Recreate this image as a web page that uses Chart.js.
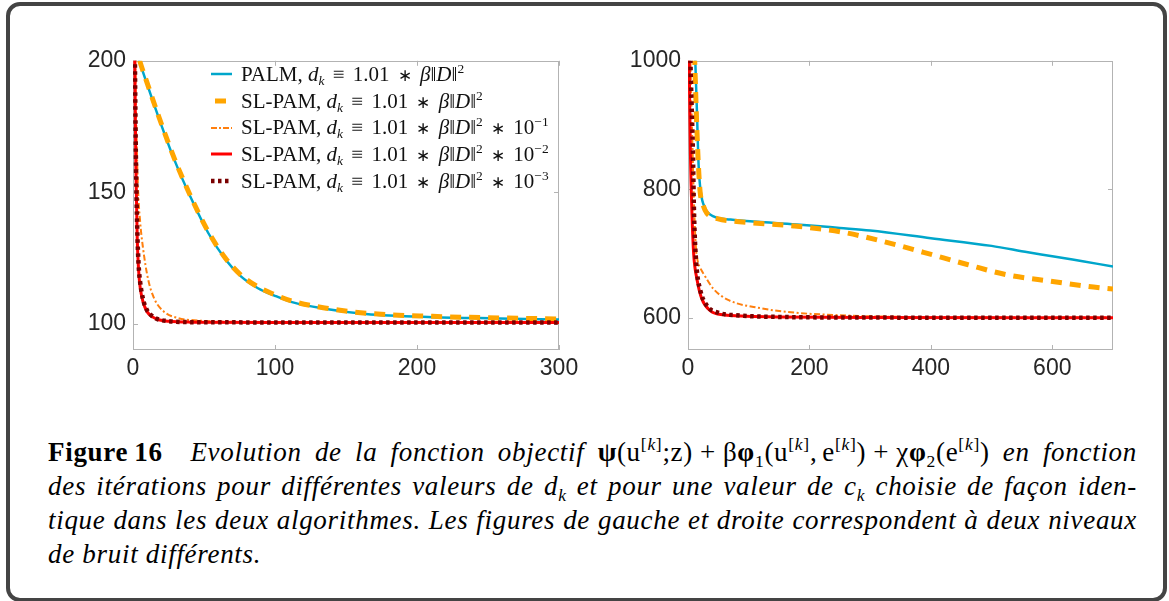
<!DOCTYPE html>
<html>
<head>
<meta charset="utf-8">
<script src="https://cdn.jsdelivr.net/npm/chart.js@4.4.1/dist/chart.umd.min.js"></script>
<style>
  body { margin: 0; width: 1169px; height: 601px; background: #fff; position: relative; overflow: hidden; font-family: "Liberation Serif", serif; }
  #frame { position: absolute; left: 6px; top: 2px; width: 1153px; height: 592px; border: 4px solid #444; border-radius: 14px; }
  .chartbox { position: absolute; top: 40px; width: 530px; height: 345px; }
  #legend { position: absolute; left: 211px; top: 61px; font-size: 21px; color: #111; }
  #legend .row { height: 26.7px; display: flex; align-items: center; white-space: nowrap; }
  #legend svg { margin-right: 9px; flex: none; }
  #legend sup { font-size: 64%; vertical-align: 0.6em; line-height: 0; font-style: normal; }
  #legend sub { font-size: 64%; vertical-align: -0.3em; line-height: 0; }
  #legend .op { font-size: 80%; margin: 0 3px; }
  #legend .eq { margin: 0 3px; }
  #caption { position: absolute; left: 48px; top: 435px; width: 1089px; font-size: 27px; line-height: 34px; color: #000; letter-spacing: 0.7px; }
  #caption .ln { text-align: justify; text-align-last: justify; white-space: nowrap; }
  #caption .last { text-align: left; text-align-last: left; }
  #caption sup { font-size: 65%; vertical-align: 0.6em; line-height: 0; }
  #caption sub { font-size: 65%; vertical-align: -0.35em; line-height: 0; }
  #caption .m { font-style: normal; }
  #caption .pl { margin: 0 7px; }
  #caption .cm { margin-right: 5px; }
</style>
</head>
<body>
<div id="frame"></div>

<div class="chartbox" style="left:60px"><canvas id="leftChart" width="530" height="345"></canvas></div>
<div class="chartbox" style="left:620px"><canvas id="rightChart" width="530" height="345"></canvas></div>

<div id="legend">
  <div class="row"><svg width="21" height="6"><line x1="0" y1="3" x2="21" y2="3" stroke="#00a6cb" stroke-width="2.5"/></svg><span>PALM, <i>d<sub>k</sub></i> <span class="eq">≡</span> 1.01 <span class="op">∗</span> <i>β</i>‖<i>D</i>‖<sup>2</sup></span></div>
  <div class="row"><svg width="21" height="6"><line x1="4" y1="3" x2="15" y2="3" stroke="#ffa500" stroke-width="5"/></svg><span>SL-PAM, <i>d<sub>k</sub></i> <span class="eq">≡</span> 1.01 <span class="op">∗</span> <i>β</i>‖<i>D</i>‖<sup>2</sup></span></div>
  <div class="row"><svg width="21" height="6"><line x1="0" y1="3" x2="21" y2="3" stroke="#ff7f0e" stroke-width="2" stroke-dasharray="6 2 2 2"/></svg><span>SL-PAM, <i>d<sub>k</sub></i> <span class="eq">≡</span> 1.01 <span class="op">∗</span> <i>β</i>‖<i>D</i>‖<sup>2</sup> <span class="op">∗</span> 10<sup>−1</sup></span></div>
  <div class="row"><svg width="21" height="6"><line x1="0" y1="3" x2="21" y2="3" stroke="#ff0000" stroke-width="3"/></svg><span>SL-PAM, <i>d<sub>k</sub></i> <span class="eq">≡</span> 1.01 <span class="op">∗</span> <i>β</i>‖<i>D</i>‖<sup>2</sup> <span class="op">∗</span> 10<sup>−2</sup></span></div>
  <div class="row"><svg width="21" height="6"><line x1="0" y1="3" x2="21" y2="3" stroke="#7a0000" stroke-width="4.5" stroke-dasharray="3.5 3.5"/></svg><span>SL-PAM, <i>d<sub>k</sub></i> <span class="eq">≡</span> 1.01 <span class="op">∗</span> <i>β</i>‖<i>D</i>‖<sup>2</sup> <span class="op">∗</span> 10<sup>−3</sup></span></div>
</div>

<div id="caption">
  <div class="ln"><b>Figure&#8201;16</b>&#8195;<i>Evolution de la fonction objectif</i> <span class="m"><b>ψ</b>(u<sup>[<i>k</i>]</sup>;z)<span class="pl">+</span>β<b>φ</b><sub>1</sub>(u<sup>[<i>k</i>]</sup><span class="cm">,</span>e<sup>[<i>k</i>]</sup>)<span class="pl">+</span>χ<b>φ</b><sub>2</sub>(e<sup>[<i>k</i>]</sup>)</span> <i>en fonction</i></div>
  <div class="ln"><i>des itérations pour différentes valeurs de d<sub>k</sub> et pour une valeur de c<sub>k</sub> choisie de façon iden-</i></div>
  <div class="ln"><i>tique dans les deux algorithmes. Les figures de gauche et droite correspondent à deux niveaux</i></div>
  <div class="ln last"><i>de bruit différents.</i></div>
</div>

<script>
// Tick labels
const leftXTicks = [0, 100, 200, 300];
const leftYTicks = [100, 150, 200];
const rightXTicks = [0, 200, 400, 600];
const rightYTicks = [600, 800, 1000];

// Left panel (iterations 0..300)
const palmLeftX = [1, 5, 10, 18, 29, 41, 53, 65, 76, 88, 100, 112, 135, 164, 211, 258, 300];
const palmLeftY = [206, 199, 191, 178.5, 162.5, 147.6, 134.5, 124.5, 118, 113.5, 110.6, 108.2, 105.7, 103.7, 102.5, 102, 101.6];
const slpamLeftX = [1, 5, 10, 18, 29, 41, 53, 65, 76, 88, 100, 112, 135, 164, 211, 258, 300];
const slpamLeftY = [207, 199.5, 191.5, 179, 163, 148, 135, 125, 118.5, 114, 111, 108.6, 106, 104, 102.8, 102.2, 101.8];
const slpam1LeftX = [1, 2, 3.5, 5, 7, 10.6, 15, 22, 32, 46, 70, 120, 300];
const slpam1LeftY = [230, 185, 152, 139, 129, 117, 109.5, 104.5, 102.1, 101.2, 100.7, 100.5, 100.5];
const slpam2LeftX = [1, 2, 3, 4, 5, 7, 10, 14, 18, 25, 40, 100, 300];
const slpam2LeftY = [215, 160, 132, 120, 114, 108.5, 104.5, 102.5, 101.5, 100.9, 100.6, 100.5, 100.5];
const slpam3LeftX = [1, 2, 3, 4, 5, 7, 10, 14, 18, 25, 40, 100, 300];
const slpam3LeftY = [220, 165, 136, 122, 116, 109.5, 105, 102.7, 101.6, 101, 100.6, 100.5, 100.5];

// Right panel (iterations 0..700)
const palmRightX = [10, 12, 15, 17.5, 21, 28, 42, 70, 120, 185, 250, 300, 400, 500, 560, 600, 650, 700];
const palmRightY = [1040, 1000, 912, 837, 796, 771, 758, 753, 749, 745, 740, 736, 724, 712, 702, 696, 688, 680];
const slpamRightX = [9, 11, 14, 17, 20, 25, 31, 50, 70, 103, 174, 251, 317, 388, 460, 525, 597, 668, 700];
const slpamRightY = [1040, 1000, 910, 840, 796, 775, 763, 754, 751, 748, 743, 734, 720, 702, 683, 667, 657, 648, 645];
const slpam1RightX = [2, 4, 7, 10, 13, 16, 20, 26, 42, 66, 120, 177, 229, 300, 400, 700];
const slpam1RightY = [1080, 1000, 880, 775, 710, 688, 678, 668, 645, 628, 615, 608, 605, 602.5, 601, 600.5];
const slpam2RightX = [1, 2, 3, 4, 6.6, 9.3, 15, 23, 37, 59, 97, 150, 300, 700];
const slpam2RightY = [1100, 1000, 920, 855, 760, 700, 659, 629, 611, 604.7, 602.6, 601.5, 600.5, 600];
const slpam3RightX = [2, 4, 6, 8, 10, 13.7, 20, 31, 48, 86, 150, 300, 700];
const slpam3RightY = [1100, 1000, 930, 862, 760, 684, 644, 619, 608.6, 603.6, 601.5, 600.5, 600];

function pairs(xs, ys) {
  return xs.map((x, i) => ({ x: x, y: ys[i] }));
}

// line styles, one per series
function makeDatasets(p, s, s1, s2, s3) {
  const common = { pointRadius: 0, cubicInterpolationMode: 'monotone', borderCapStyle: 'butt', fill: false };
  return [
    Object.assign({ label: 'PALM', data: p, borderColor: '#00a6cb', borderWidth: 2.5, order: 5 }, common),
    Object.assign({ label: 'SL-PAM', data: s, borderColor: '#ffa500', borderWidth: 5, borderDash: [11, 8], order: 4 }, common),
    Object.assign({ label: 'SL-PAM 1e-1', data: s1, borderColor: '#ff7f0e', borderWidth: 2, borderDash: [6, 2.5, 2, 2.5], order: 3 }, common),
    Object.assign({ label: 'SL-PAM 1e-2', data: s2, borderColor: '#ff0000', borderWidth: 3, order: 2 }, common),
    Object.assign({ label: 'SL-PAM 1e-3', data: s3, borderColor: '#7a0000', borderWidth: 4.5, borderDash: [3.5, 3.5], order: 1 }, common)
  ];
}

// MATLAB style box with inner ticks
const boxPlugin = {
  id: 'box',
  beforeDatasetsDraw(chart) {
    const { ctx, chartArea: a, scales: { x, y } } = chart;
    ctx.save();
    ctx.strokeStyle = '#b3b3b3';
    ctx.lineWidth = 1;
    ctx.strokeRect(Math.round(a.left) + 0.5, Math.round(a.top) + 0.5, Math.round(a.width) - 1, Math.round(a.height) - 1);
    ctx.beginPath();
    x.ticks.forEach(t => {
      const p = Math.round(x.getPixelForValue(t.value)) + 0.5;
      ctx.moveTo(p, a.bottom); ctx.lineTo(p, a.bottom - 5);
      ctx.moveTo(p, a.top); ctx.lineTo(p, a.top + 5);
    });
    y.ticks.forEach(t => {
      const p = Math.round(y.getPixelForValue(t.value)) + 0.5;
      ctx.moveTo(a.left, p); ctx.lineTo(a.left + 5, p);
      ctx.moveTo(a.right, p); ctx.lineTo(a.right - 5, p);
    });
    ctx.stroke();
    ctx.restore();
  }
};

function makeChart(id, datasets, xr, yr, xTicks, yTicks, yWidth, padRight) {
  const tickFont = { family: 'Liberation Sans', size: 23 };
  return new Chart(document.getElementById(id), {
    type: 'line',
    data: { datasets: datasets },
    plugins: [boxPlugin],
    options: {
      responsive: false,
      animation: false,
      devicePixelRatio: 1,
      layout: { padding: { top: 14, right: padRight, left: 0, bottom: 0 } },
      plugins: { legend: { display: false }, tooltip: { enabled: false } },
      scales: {
        x: {
          type: 'linear', min: xr[0], max: xr[1],
          grid: { display: false, drawTicks: false },
          border: { display: false },
          afterBuildTicks: s => { s.ticks = xTicks.map(v => ({ value: v })); },
          afterFit: s => { s.height = 35; },
          ticks: { font: tickFont, color: '#262626', padding: 5, maxRotation: 0, autoSkip: false, callback: v => String(v) }
        },
        y: {
          type: 'linear', min: yr[0], max: yr[1],
          grid: { display: false, drawTicks: false },
          border: { display: false },
          afterBuildTicks: s => { s.ticks = yTicks.map(v => ({ value: v })); },
          afterFit: s => { s.width = yWidth; },
          ticks: { font: tickFont, color: '#262626', padding: 7, autoSkip: false, callback: v => String(v) }
        }
      }
    }
  });
}

makeChart('leftChart',
  makeDatasets(pairs(palmLeftX, palmLeftY), pairs(slpamLeftX, slpamLeftY), pairs(slpam1LeftX, slpam1LeftY),
               pairs(slpam2LeftX, slpam2LeftY), pairs(slpam3LeftX, slpam3LeftY)),
  [0, 300], [90, 200], leftXTicks, leftYTicks, 73, 31);

makeChart('rightChart',
  makeDatasets(pairs(palmRightX, palmRightY), pairs(slpamRightX, slpamRightY), pairs(slpam1RightX, slpam1RightY),
               pairs(slpam2RightX, slpam2RightY), pairs(slpam3RightX, slpam3RightY)),
  [0, 700], [550, 1000], rightXTicks, rightYTicks, 68, 37);
</script>
</body>
</html>
